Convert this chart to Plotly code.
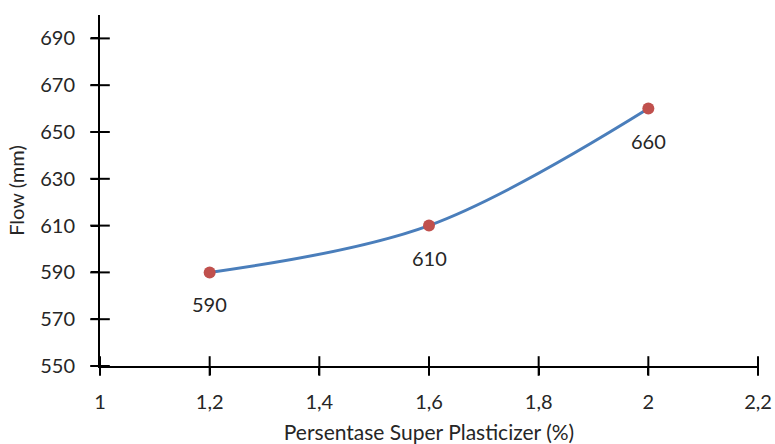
import plotly.graph_objects as go

# Flow vs superplasticizer dosage
sp_percent = [1.2, 1.6, 2.0]
flow_mm = [590, 610, 660]
flow_labels = ["590", "610", "660"]

x_ticks = [1, 1.2, 1.4, 1.6, 1.8, 2, 2.2]
x_tick_text = ["1", "1,2", "1,4", "1,6", "1,8", "2", "2,2"]
y_ticks = [550, 570, 590, 610, 630, 650, 670, 690]

X_RANGE = [1, 2.2]
Y_RANGE = [550, 700]

FONT = "Lato"
TEXT_COLOR = "#262626"

fig = go.Figure()
fig.add_trace(go.Scatter(
    x=sp_percent, y=flow_mm,
    mode="lines+markers",
    line=dict(color="#4A7EBB", width=3, shape="spline", smoothing=1.0),
    marker=dict(color="#C0504D", size=12),
    hoverinfo="x+y",
    showlegend=False,
))

# cross-style tick marks straddling each axis line
tick_marker_x = dict(symbol="line-ns-open", size=14, color="black",
                     line=dict(color="black", width=2))
tick_marker_y = dict(symbol="line-ew-open", size=14, color="black",
                     line=dict(color="black", width=2))
fig.add_trace(go.Scatter(
    x=x_ticks, y=[Y_RANGE[0]] * len(x_ticks), mode="markers",
    marker=tick_marker_x, cliponaxis=False, showlegend=False, hoverinfo="skip",
))
fig.add_trace(go.Scatter(
    x=[X_RANGE[0]] * len(y_ticks), y=y_ticks, mode="markers",
    marker=tick_marker_y, cliponaxis=False, showlegend=False, hoverinfo="skip",
))

# value labels below each point
for x, y, t in zip(sp_percent, flow_mm, flow_labels):
    fig.add_annotation(x=x, y=y, text=t, showarrow=False, yshift=-32,
                       font=dict(family=FONT, size=20, color=TEXT_COLOR))

axis_common = dict(
    showgrid=False, zeroline=False, automargin=False,
    showline=True, linecolor="black", linewidth=2,
    ticks="outside", ticklen=7, tickwidth=2, tickcolor="black",
    tickfont=dict(family=FONT, size=20, color=TEXT_COLOR),
)

fig.update_layout(
    width=775, height=444,
    margin=dict(l=100, r=17, t=15, b=78),
    paper_bgcolor="white", plot_bgcolor="white",
    xaxis=dict(range=X_RANGE, tickvals=x_ticks, ticktext=x_tick_text,
               title=dict(text="Persentase Super Plasticizer (%)",
                          font=dict(family=FONT, size=21, color=TEXT_COLOR),
                          standoff=14),
               ticklabelstandoff=10,
               **axis_common),
    yaxis=dict(range=Y_RANGE, tickvals=y_ticks,
               title=dict(text="Flow (mm)",
                          font=dict(family=FONT, size=20, color=TEXT_COLOR),
                          standoff=10),
               ticklabelstandoff=12,
               **axis_common),
)

fig.write_html("out.html")
